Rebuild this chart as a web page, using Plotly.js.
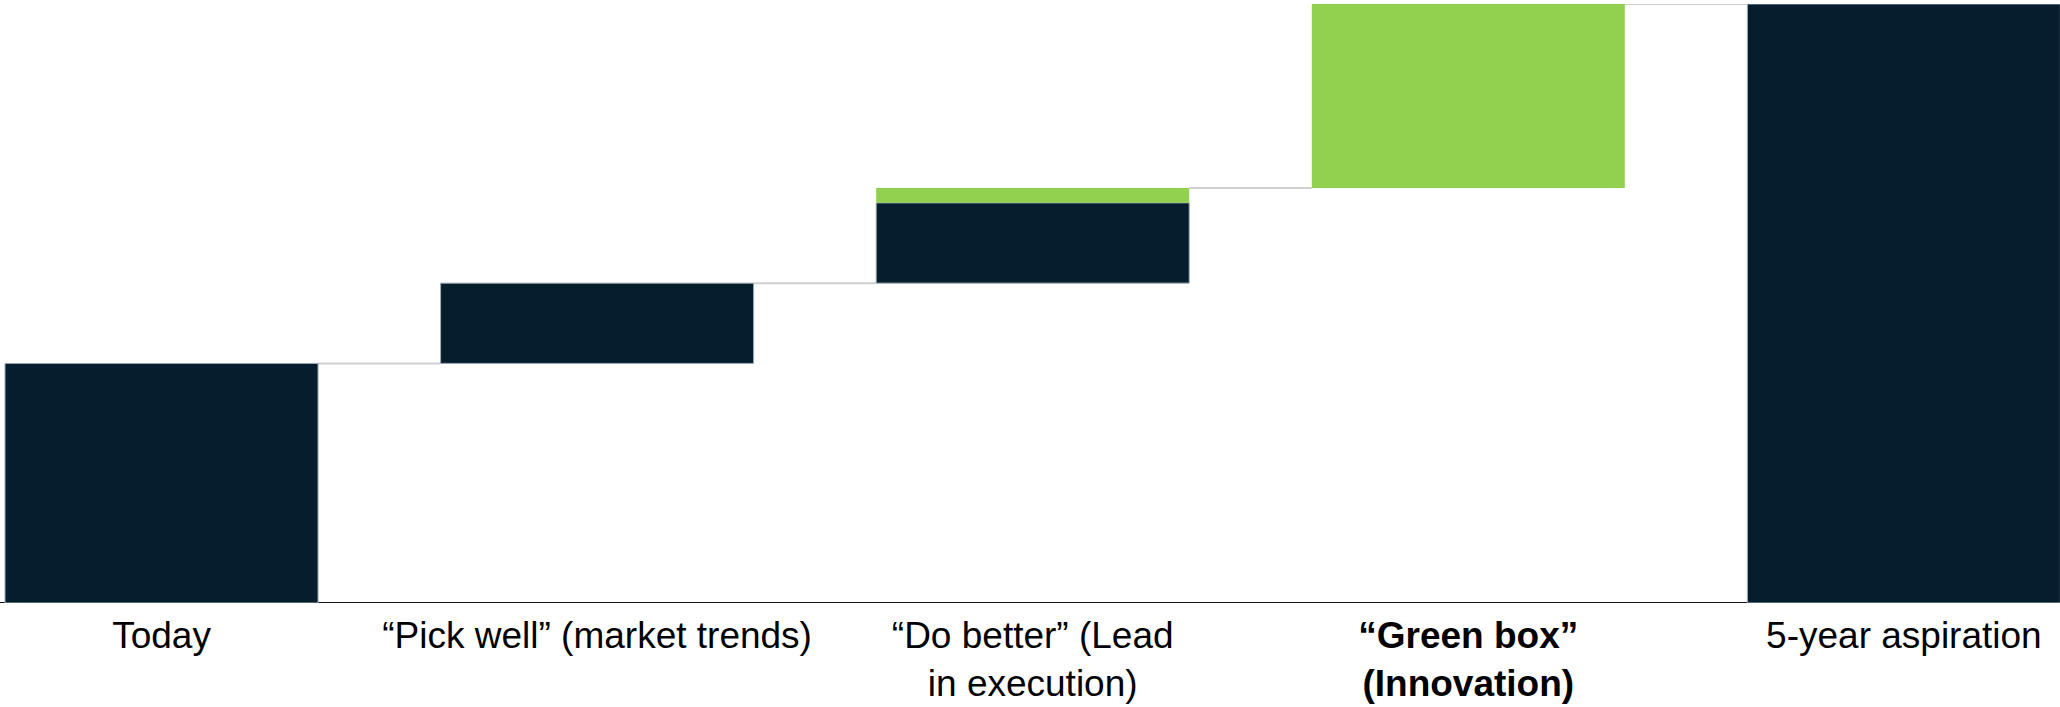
<!DOCTYPE html>
<html>
<head>
<meta charset="utf-8">
<script src="https://cdn.plot.ly/plotly-3.0.1.min.js"></script>
<style>
  html, body { margin: 0; padding: 0; background: #ffffff; }
  #chart { width: 2060px; height: 707px; }
</style>
</head>
<body>
<div id="chart"></div>
<script>
// Growth bridge: from today's position to the 5-year aspiration
const categories = [
  'Today',
  '“Pick well” (market trends)',
  '“Do better” (Lead<br>in execution)',
  '<b>“Green box”<br>(Innovation)</b>',
  '5-year aspiration'
];
// Totals at the two ends of the bridge
const totalValues = [40, null, null, null, 100];
// Step contributions from the core business (navy)
const coreSteps = [null, 13.4, 13.4, null, null];
// Step contributions from innovation (green)
const innovationSteps = [null, null, 2.5, 30.7, null];

const NAVY = '#061d2e';
const GREEN = '#92d050';
const BAR_WIDTH = 0.7186;

// Running level of the bridge, used for the floating bases and connectors
const navyY = [], navyBase = [], greenY = [], greenBase = [], levelAfter = [];
let level = 0;
categories.forEach((c, i) => {
  if (totalValues[i] !== null) {
    navyY.push(totalValues[i]); navyBase.push(0);
    level = totalValues[i];
  } else if (coreSteps[i] !== null) {
    navyY.push(coreSteps[i]); navyBase.push(level);
    level += coreSteps[i];
  } else {
    navyY.push(null); navyBase.push(null);
  }
  if (innovationSteps[i] !== null) {
    greenY.push(innovationSteps[i]); greenBase.push(level);
    level += innovationSteps[i];
  } else {
    greenY.push(null); greenBase.push(null);
  }
  levelAfter.push(level);
});

const traces = [
  {
    type: 'bar', x: categories, y: navyY, base: navyBase, width: BAR_WIDTH,
    marker: { color: NAVY, line: { color: '#9eabb6', width: 1 } },
    hoverinfo: 'skip', showlegend: false
  },
  {
    type: 'bar', x: categories, y: greenY, base: greenBase, width: BAR_WIDTH,
    marker: { color: GREEN, line: { width: 0 } },
    hoverinfo: 'skip', showlegend: false
  }
];

// Thin grey connectors between consecutive bars
const shapes = [];
for (let i = 0; i < categories.length - 1; i++) {
  shapes.push({
    type: 'line', layer: 'below', xref: 'x', yref: 'y',
    x0: i + BAR_WIDTH / 2, x1: i + 1 - BAR_WIDTH / 2,
    y0: levelAfter[i], y1: levelAfter[i],
    line: { color: '#cfcfcf', width: 2 }
  });
}
// Baseline
shapes.push({
  type: 'line', layer: 'below', xref: 'paper', yref: 'y',
  x0: 0, x1: 1, y0: 0, y1: 0,
  line: { color: '#111111', width: 2 }
});

const layout = {
  width: 2060, height: 707,
  margin: { l: 0, r: 0, t: 4, b: 104, pad: 0 },
  paper_bgcolor: '#ffffff', plot_bgcolor: '#ffffff',
  barmode: 'overlay',
  showlegend: false,
  font: { family: '"Liberation Sans", Arial, sans-serif', color: '#000000' },
  xaxis: {
    type: 'category',
    range: [-0.3708, 4.3584],
    showgrid: false, zeroline: false, showline: false,
    ticks: '', fixedrange: true,
    ticklabelstandoff: 7,
    tickfont: { family: '"Liberation Sans", Arial, sans-serif', size: 37, color: '#000000' }
  },
  yaxis: {
    range: [0, 100],
    visible: false, fixedrange: true
  },
  shapes: shapes
};

Plotly.newPlot('chart', traces, layout, { displayModeBar: false, staticPlot: true });
</script>
</body>
</html>
